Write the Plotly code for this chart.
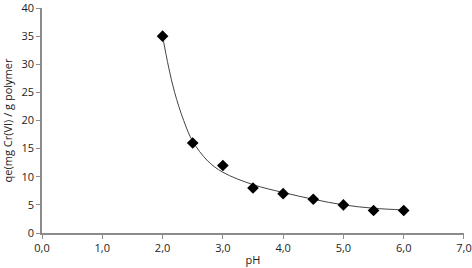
import plotly.graph_objects as go

ph = [2.0, 2.5, 3.0, 3.5, 4.0, 4.5, 5.0, 5.5, 6.0]
qe = [35.0, 16.0, 12.0, 8.0, 7.0, 6.0, 5.0, 4.0, 4.0]

# trendline samples
trend_ph = [2.0, 2.1, 2.2, 2.35, 2.5, 2.75, 3.0, 3.5, 4.0, 4.5, 5.0, 5.5, 6.0]
trend_qe = [35.0, 29.5, 25.0, 20.0, 16.3, 12.8, 10.8, 8.6, 7.2, 6.0, 5.0, 4.4, 4.1]

x_ticks = [0, 1, 2, 3, 4, 5, 6, 7]
x_labels = ["0,0", "1,0", "2,0", "3,0", "4,0", "5,0", "6,0", "7,0"]
y_ticks = [0, 5, 10, 15, 20, 25, 30, 35, 40]

fig = go.Figure()
fig.add_trace(go.Scatter(x=trend_ph, y=trend_qe, mode="lines",
                         line=dict(color="#444444", width=1, shape="spline", smoothing=1.0),
                         hoverinfo="skip", showlegend=False, cliponaxis=False))
fig.add_trace(go.Scatter(x=ph, y=qe, mode="markers",
                         marker=dict(symbol="diamond", size=9, color="black"),
                         showlegend=False, cliponaxis=False))

font = dict(family="Open Sans", size=11, color="#222222")
axis_common = dict(showgrid=False, zeroline=False, showline=True, linecolor="#8c8c8c",
                   linewidth=1.5, ticks="outside", ticklen=4, tickcolor="#8c8c8c",
                   tickfont=font, automargin=False, ticklabeloverflow="allow")

fig.update_xaxes(range=[0, 7.0001], tickvals=x_ticks, ticktext=x_labels,
                 title=dict(text="pH", font=font, standoff=2),
                 **axis_common)
fig.update_yaxes(range=[0, 40.001], tickvals=y_ticks,
                 title=dict(text="qe(mg Cr(VI) / g polymer", font=font, standoff=7),
                 **axis_common)

fig.update_layout(width=472, height=268, margin=dict(l=42, r=8, t=8, b=35),
                  plot_bgcolor="white", paper_bgcolor="white")

fig.write_html("out.html", config={"displayModeBar": False},
               post_script="document.body.style.margin='0';")
